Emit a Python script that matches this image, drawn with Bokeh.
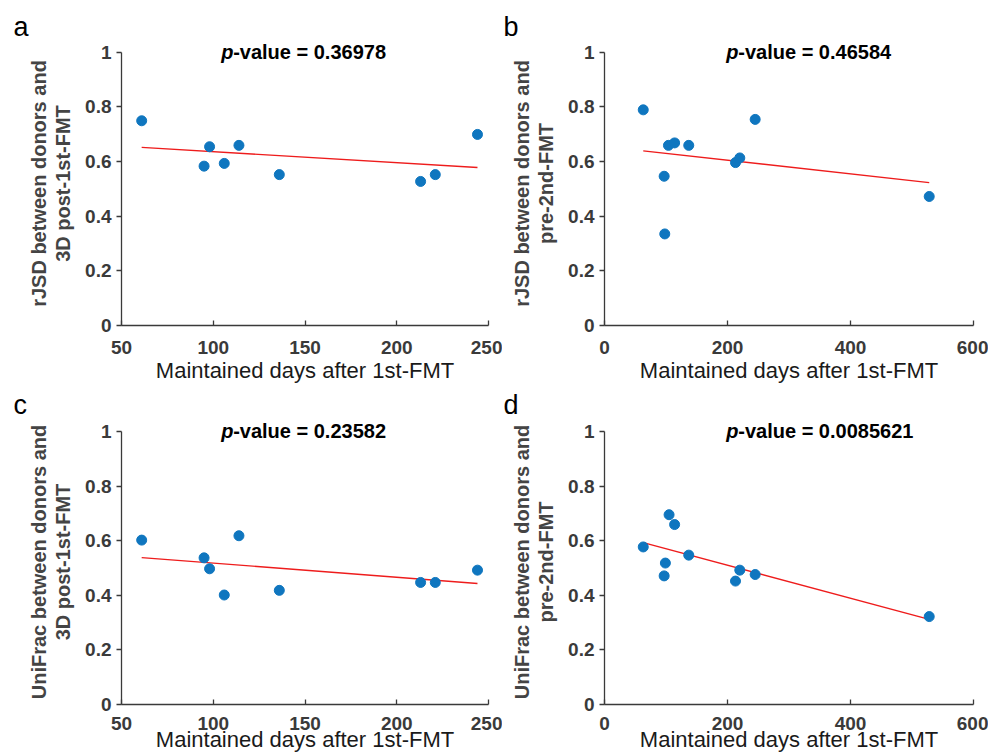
import numpy as np
from bokeh.plotting import figure
from bokeh.layouts import gridplot
from bokeh.models import Range1d, FixedTicker, Label, Title, CustomJSTickFormatter
from bokeh.embed import file_html
from bokeh.resources import INLINE

# ---- data ----
days_a = [61, 95, 98, 106, 114, 136, 213, 221, 244]
rjsd_post1 = [0.749, 0.583, 0.654, 0.593, 0.659, 0.552, 0.527, 0.552, 0.699]
unifrac_post1 = [0.602, 0.537, 0.497, 0.401, 0.618, 0.418, 0.447, 0.447, 0.492]

days_b = [63, 97, 98, 104, 114, 137, 213, 220, 245, 528]
rjsd_pre2 = [0.789, 0.546, 0.335, 0.659, 0.668, 0.659, 0.596, 0.613, 0.754, 0.472]
days_d = [63, 97, 99, 105, 114, 137, 213, 220, 245, 528]
unifrac_pre2 = [0.577, 0.471, 0.518, 0.695, 0.659, 0.547, 0.452, 0.492, 0.476, 0.322]

pvalues = ["0.36978", "0.46584", "0.23582", "0.0085621"]
panel_letters = ["a", "b", "c", "d"]
ylabels = ["rJSD between donors and\n3D post-1st-FMT",
           "rJSD between donors and\npre-2nd-FMT",
           "UniFrac between donors and\n3D post-1st-FMT",
           "UniFrac between donors and\npre-2nd-FMT"]
xlabel = "Maintained days after 1st-FMT"
y_ticks = [0, 0.2, 0.4, 0.6, 0.8, 1]
x_ticks_short = [50, 100, 150, 200, 250]
x_ticks_long = [0, 200, 400, 600]

FONT = "Liberation Sans"
DOT = "#0f76bf"
AXC = "#3a3a3a"


def make_panel(xs, ys, xr, xticks, ylab, letter, pval, title_x, w, h,
               bl, br, bt, bb, ytop, letter_off, tl_standoff, xl_standoff):
    p = figure(width=w, height=h, output_backend="svg", toolbar_location=None,
               x_range=Range1d(*xr), y_range=Range1d(0, ytop),
               min_border_left=bl, min_border_right=br,
               min_border_top=bt, min_border_bottom=bb)
    p.outline_line_color = None
    p.grid.visible = False
    p.background_fill_color = "white"
    p.border_fill_color = "white"

    fmt = CustomJSTickFormatter(code="return tick.toString();")
    for ax in (p.xaxis[0], p.yaxis[0]):
        ax.axis_line_color = AXC
        ax.axis_line_width = 1.3
        ax.major_tick_line_color = AXC
        ax.major_tick_line_width = 1.3
        ax.minor_tick_line_color = None
        ax.major_label_text_font = FONT
        ax.major_label_text_font_style = "bold"
        ax.major_label_text_font_size = "19px"
        ax.major_label_text_color = AXC
        ax.formatter = fmt
    p.xaxis.ticker = FixedTicker(ticks=xticks)
    p.yaxis.ticker = FixedTicker(ticks=y_ticks)
    p.yaxis.bounds = (0, 1)
    p.xaxis.major_tick_in = 5
    p.xaxis.major_tick_out = 0
    p.yaxis.major_tick_in = 0
    p.yaxis.major_tick_out = 5
    p.xaxis.major_label_standoff = tl_standoff
    p.yaxis.major_label_standoff = 5

    p.xaxis.axis_label = xlabel
    p.xaxis.axis_label_text_font = FONT
    p.xaxis.axis_label_text_font_style = "normal"
    p.xaxis.axis_label_text_font_size = "22px"
    p.xaxis.axis_label_text_color = "#1a1a1a"
    p.xaxis.axis_label_standoff = xl_standoff

    p.yaxis.axis_label = ylab
    p.yaxis.axis_label_text_font = FONT
    p.yaxis.axis_label_text_font_style = "bold"
    p.yaxis.axis_label_text_font_size = "20px"
    p.yaxis.axis_label_text_line_height = 1.1
    p.yaxis.axis_label_text_color = "#444444"
    p.yaxis.axis_label_standoff = 8

    # least-squares regression line
    k, b0 = np.polyfit(np.array(xs, float), np.array(ys, float), 1)
    lx = [min(xs), max(xs)]
    p.line(lx, [k * v + b0 for v in lx], line_color="#ee1c1c", line_width=1.4)
    p.scatter(xs, ys, size=10, fill_color=DOT, line_color=DOT)

    p.add_layout(Label(x=title_x, y=1, text="p", text_font=FONT,
                       text_font_style="bold italic", text_font_size="20px",
                       text_color="black", text_align="left",
                       text_baseline="middle"))
    p.add_layout(Label(x=title_x, y=1, x_offset=12, text="-value = " + pval,
                       text_font=FONT, text_font_style="bold",
                       text_font_size="20px", text_color="black",
                       text_align="left", text_baseline="middle"))
    p.add_layout(Title(text=letter, align="left", offset=letter_off,
                       text_font=FONT, text_font_style="normal",
                       text_font_size="27px", text_color="black",
                       standoff=0), "above")
    return p


pa = make_panel(days_a, rjsd_post1, (50, 250), x_ticks_short, ylabels[0],
                panel_letters[0], pvalues[0], 104.3, 502, 385, 121, 14, 41, 60,
                1.039, -108, 15, 1)
pb = make_panel(days_b, rjsd_pre2, (0, 600), x_ticks_long, ylabels[1],
                panel_letters[1], pvalues[1], 198, 486, 385, 102, 15, 41, 60,
                1.039, -101, 15, 1)
pc = make_panel(days_a, unifrac_post1, (50, 250), x_ticks_short, ylabels[2],
                panel_letters[2], pvalues[2], 104.3, 502, 369, 121, 14, 34, 49,
                1.0437, -108, 12, -6)
pd = make_panel(days_d, unifrac_pre2, (0, 600), x_ticks_long, ylabels[3],
                panel_letters[3], pvalues[3], 198, 486, 369, 102, 15, 34, 49,
                1.0437, -101, 12, -6)

grid = gridplot([[pa, pb], [pc, pd]], toolbar_location=None)
open("out.html", "w").write(file_html(grid, INLINE))
